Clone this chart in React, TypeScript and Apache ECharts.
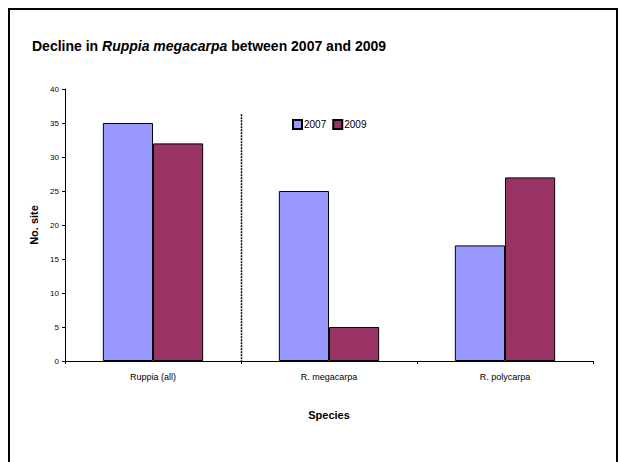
import React, { useEffect, useRef } from "react";
import * as echarts from "echarts";

const categories = ["Ruppia (all)", "R. megacarpa", "R. polycarpa"];
const years = ["2007", "2009"];
const values2007 = [35, 25, 17];
const values2009 = [32, 5, 27];
const yTicks = { min: 0, max: 40, interval: 5 };
const dividerTop = 36.3;

export default function App() {
  const ref = useRef<HTMLDivElement>(null);
  useEffect(() => {
    if (!ref.current) return;
    const chart = echarts.init(ref.current, undefined, { renderer: "svg" });
    const font = "Arial, 'Liberation Sans', sans-serif";
    chart.setOption({
      animation: false,
      backgroundColor: "#ffffff",
      title: {
        text: "{n|Decline in }{i|Ruppia megacarpa}{n| between 2007 and 2009}",
        left: 27,
        top: 34,
        textStyle: {
          rich: {
            n: { fontFamily: font, fontWeight: "bold", fontSize: 14, color: "#000" },
            i: { fontFamily: font, fontWeight: "bold", fontStyle: "italic", fontSize: 14, color: "#000" },
          },
        },
      },
      legend: {
        data: years,
        left: 292,
        top: 119,
        itemWidth: 9,
        itemHeight: 9,
        itemGap: 6,
        padding: 0,
        icon: "rect",
        textStyle: { fontFamily: font, fontSize: 10, color: "#000", padding: [0, 0, 0, -3] },
      },
      grid: { left: 65, right: 28, top: 89, bottom: 101, containLabel: false },
      xAxis: {
        type: "category",
        data: categories,
        name: "Species",
        nameLocation: "middle",
        nameGap: 48,
        nameTextStyle: { fontFamily: font, fontWeight: "bold", fontSize: 11, color: "#000" },
        axisLine: { lineStyle: { color: "#000", width: 1 } },
        axisTick: { show: true, length: 3, lineStyle: { color: "#000" } },
        axisLabel: { fontFamily: font, fontSize: 9, color: "#000", margin: 11 },
      },
      yAxis: {
        type: "value",
        min: yTicks.min,
        max: yTicks.max,
        interval: yTicks.interval,
        name: "No. site",
        nameLocation: "middle",
        nameGap: 26,
        nameRotate: 90,
        nameTextStyle: { fontFamily: font, fontWeight: "bold", fontSize: 11, color: "#000" },
        axisLine: { show: true, lineStyle: { color: "#000", width: 1 } },
        axisTick: { show: true, length: 3, lineStyle: { color: "#000" } },
        axisLabel: { fontFamily: font, fontSize: 8, color: "#000", margin: 6 },
        splitLine: { show: false },
      },
      series: [
        {
          name: years[0],
          type: "bar",
          data: values2007,
          barGap: "0%",
          barCategoryGap: "43%",
          itemStyle: { color: "#9999FF", borderColor: "#000", borderWidth: 1 },
        },
        {
          name: years[1],
          type: "bar",
          data: values2009,
          barGap: "0%",
          barCategoryGap: "43%",
          itemStyle: { color: "#993366", borderColor: "#000", borderWidth: 1 },
        },
      ],
    });
    const x0 = chart.convertToPixel({ xAxisIndex: 0 }, 0) as number;
    const x1 = chart.convertToPixel({ xAxisIndex: 0 }, 1) as number;
    const xd = Math.round((x0 + x1) / 2) + 0.5;
    const yTop = chart.convertToPixel({ yAxisIndex: 0 }, dividerTop) as number;
    const yBot = chart.convertToPixel({ yAxisIndex: 0 }, 0) as number;
    chart.setOption({
      graphic: [
        {
          type: "rect",
          shape: { x: 9, y: 9, width: 608, height: 480 },
          style: { fill: "none", stroke: "#000", lineWidth: 2 },
          silent: true,
        },
        {
          type: "line",
          shape: { x1: xd, y1: yTop, x2: xd, y2: yBot },
          style: { stroke: "#000", lineWidth: 1.5, lineDash: [2, 1] },
          silent: true,
        },
      ],
    });
    return () => chart.dispose();
  }, []);
  return (
    <div
      ref={ref}
      style={{ position: "fixed", left: 0, top: 0, width: 621, height: 462 }}
    />
  );
}
